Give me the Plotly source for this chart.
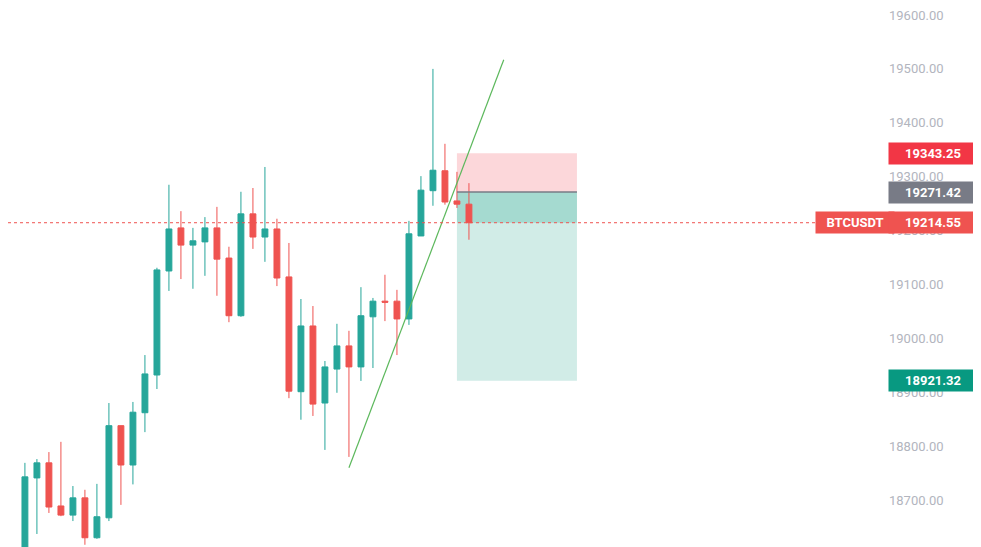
import plotly.graph_objects as go

opens = [18589, 18741, 18769, 18689, 18672, 18704, 18630, 18667, 18838, 18765,
         18862, 18932, 19125, 19205, 19173, 19179, 19205, 19149, 19042, 19231,
         19188, 19203, 19114, 18901, 19023, 18880, 18943, 18986, 18947, 19040,
         19069, 19069, 19036, 19190, 19274, 19311, 19255, 19249]
highs = [18769, 18776, 18789, 18808, 18726, 18719, 18730, 18880, 18838, 18882,
         18969, 19131, 19285, 19236, 19205, 19225, 19244, 19170, 19272, 19279,
         19318, 19222, 19177, 19073, 19060, 18958, 19027, 19014, 19095, 19075,
         19118, 19090, 19218, 19301, 19500, 19361, 19309, 19288]
lows = [18560, 18637, 18676, 18670, 18661, 18617, 18628, 18661, 18691, 18729,
        18826, 18906, 19088, 19110, 19092, 19116, 19079, 19030, 19040, 19166,
        19142, 19097, 18889, 18849, 18856, 18793, 18899, 18780, 18921, 18945,
        19032, 18969, 19025, 19190, 19246, 19248, 19242, 19183]
closes = [18743, 18769, 18687, 18672, 18704, 18630, 18669, 18838, 18765, 18863,
          18934, 19127, 19203, 19173, 19181, 19205, 19147, 19042, 19231, 19188,
          19203, 19112, 18902, 19023, 18878, 18947, 18986, 18947, 19042, 19069,
          19067, 19036, 19194, 19275, 19312, 19253, 19249, 19214.55]
idx = list(range(len(opens)))

last_price = 19214.55
entry = 19271.42
stop = 19343.25
target = 18921.32
pos_start, pos_end = 36, 46
trend_x = [27, 39.9]
trend_y = [18760, 19517]

GREEN = "#26a69a"
RED = "#ef5350"

fig = go.Figure()
fig.add_trace(go.Candlestick(
    x=idx, open=opens, high=highs, low=lows, close=closes,
    increasing=dict(line=dict(color=GREEN, width=1), fillcolor=GREEN),
    decreasing=dict(line=dict(color=RED, width=1), fillcolor=RED),
    whiskerwidth=0, showlegend=False, hoverinfo="skip"))

# position tool
fig.add_shape(type="rect", x0=pos_start, x1=pos_end, y0=entry, y1=stop,
              fillcolor="rgba(242,54,69,0.2)", line_width=0, layer="below")
fig.add_shape(type="rect", x0=pos_start, x1=pos_end, y0=target, y1=entry,
              fillcolor="rgba(8,153,129,0.19)", line_width=0, layer="below")
fig.add_shape(type="rect", x0=pos_start, x1=pos_end, y0=last_price, y1=entry,
              fillcolor="rgba(8,153,129,0.22)", line_width=0, layer="below")
fig.add_shape(type="line", x0=pos_start, x1=pos_end, y0=entry, y1=entry,
              line=dict(color="#787b86", width=1.5))
fig.add_shape(type="line", x0=trend_x[0], x1=trend_x[1], y0=trend_y[0], y1=trend_y[1],
              line=dict(color="#5cb85c", width=1.2))
fig.add_shape(type="line", xref="paper", x0=0, x1=1, y0=last_price, y1=last_price,
              line=dict(color=RED, width=1, dash="dot"))

def box(y, text, color, x=1.051, w=82):
    fig.add_annotation(xref="paper", x=x, y=y, text="<b>%s</b>" % text, showarrow=False,
                       xanchor="center", font=dict(color="white", size=13, family="Roboto"),
                       bgcolor=color, borderpad=3, width=w)

box(stop, "%.2f" % stop, "#f23645")
box(entry, "%.2f" % entry, "#787b86")
box(target, "%.2f" % target, "#089981")
box(last_price, "BTCUSDT", RED, 0.962, 72)
box(last_price, "%.2f" % last_price, RED)

fig.update_layout(
    width=981, height=547, margin=dict(l=0, r=101, t=0, b=0),
    plot_bgcolor="white", paper_bgcolor="white",
    xaxis=dict(range=[-1.41, 71.92], showgrid=False, showticklabels=False,
               zeroline=False, rangeslider=dict(visible=False)),
    yaxis=dict(range=[18598, 19613], side="right", showgrid=False, zeroline=False,
               tickvals=[18700, 18800, 18900, 19000, 19100, 19200, 19300, 19400, 19500, 19600],
               tickformat=".2f", ticks="", ticklabeloverflow="allow",
               tickfont=dict(color="#b2b5be", size=13, family="Roboto"),
               showline=False),
)
fig.write_html("out.html")
